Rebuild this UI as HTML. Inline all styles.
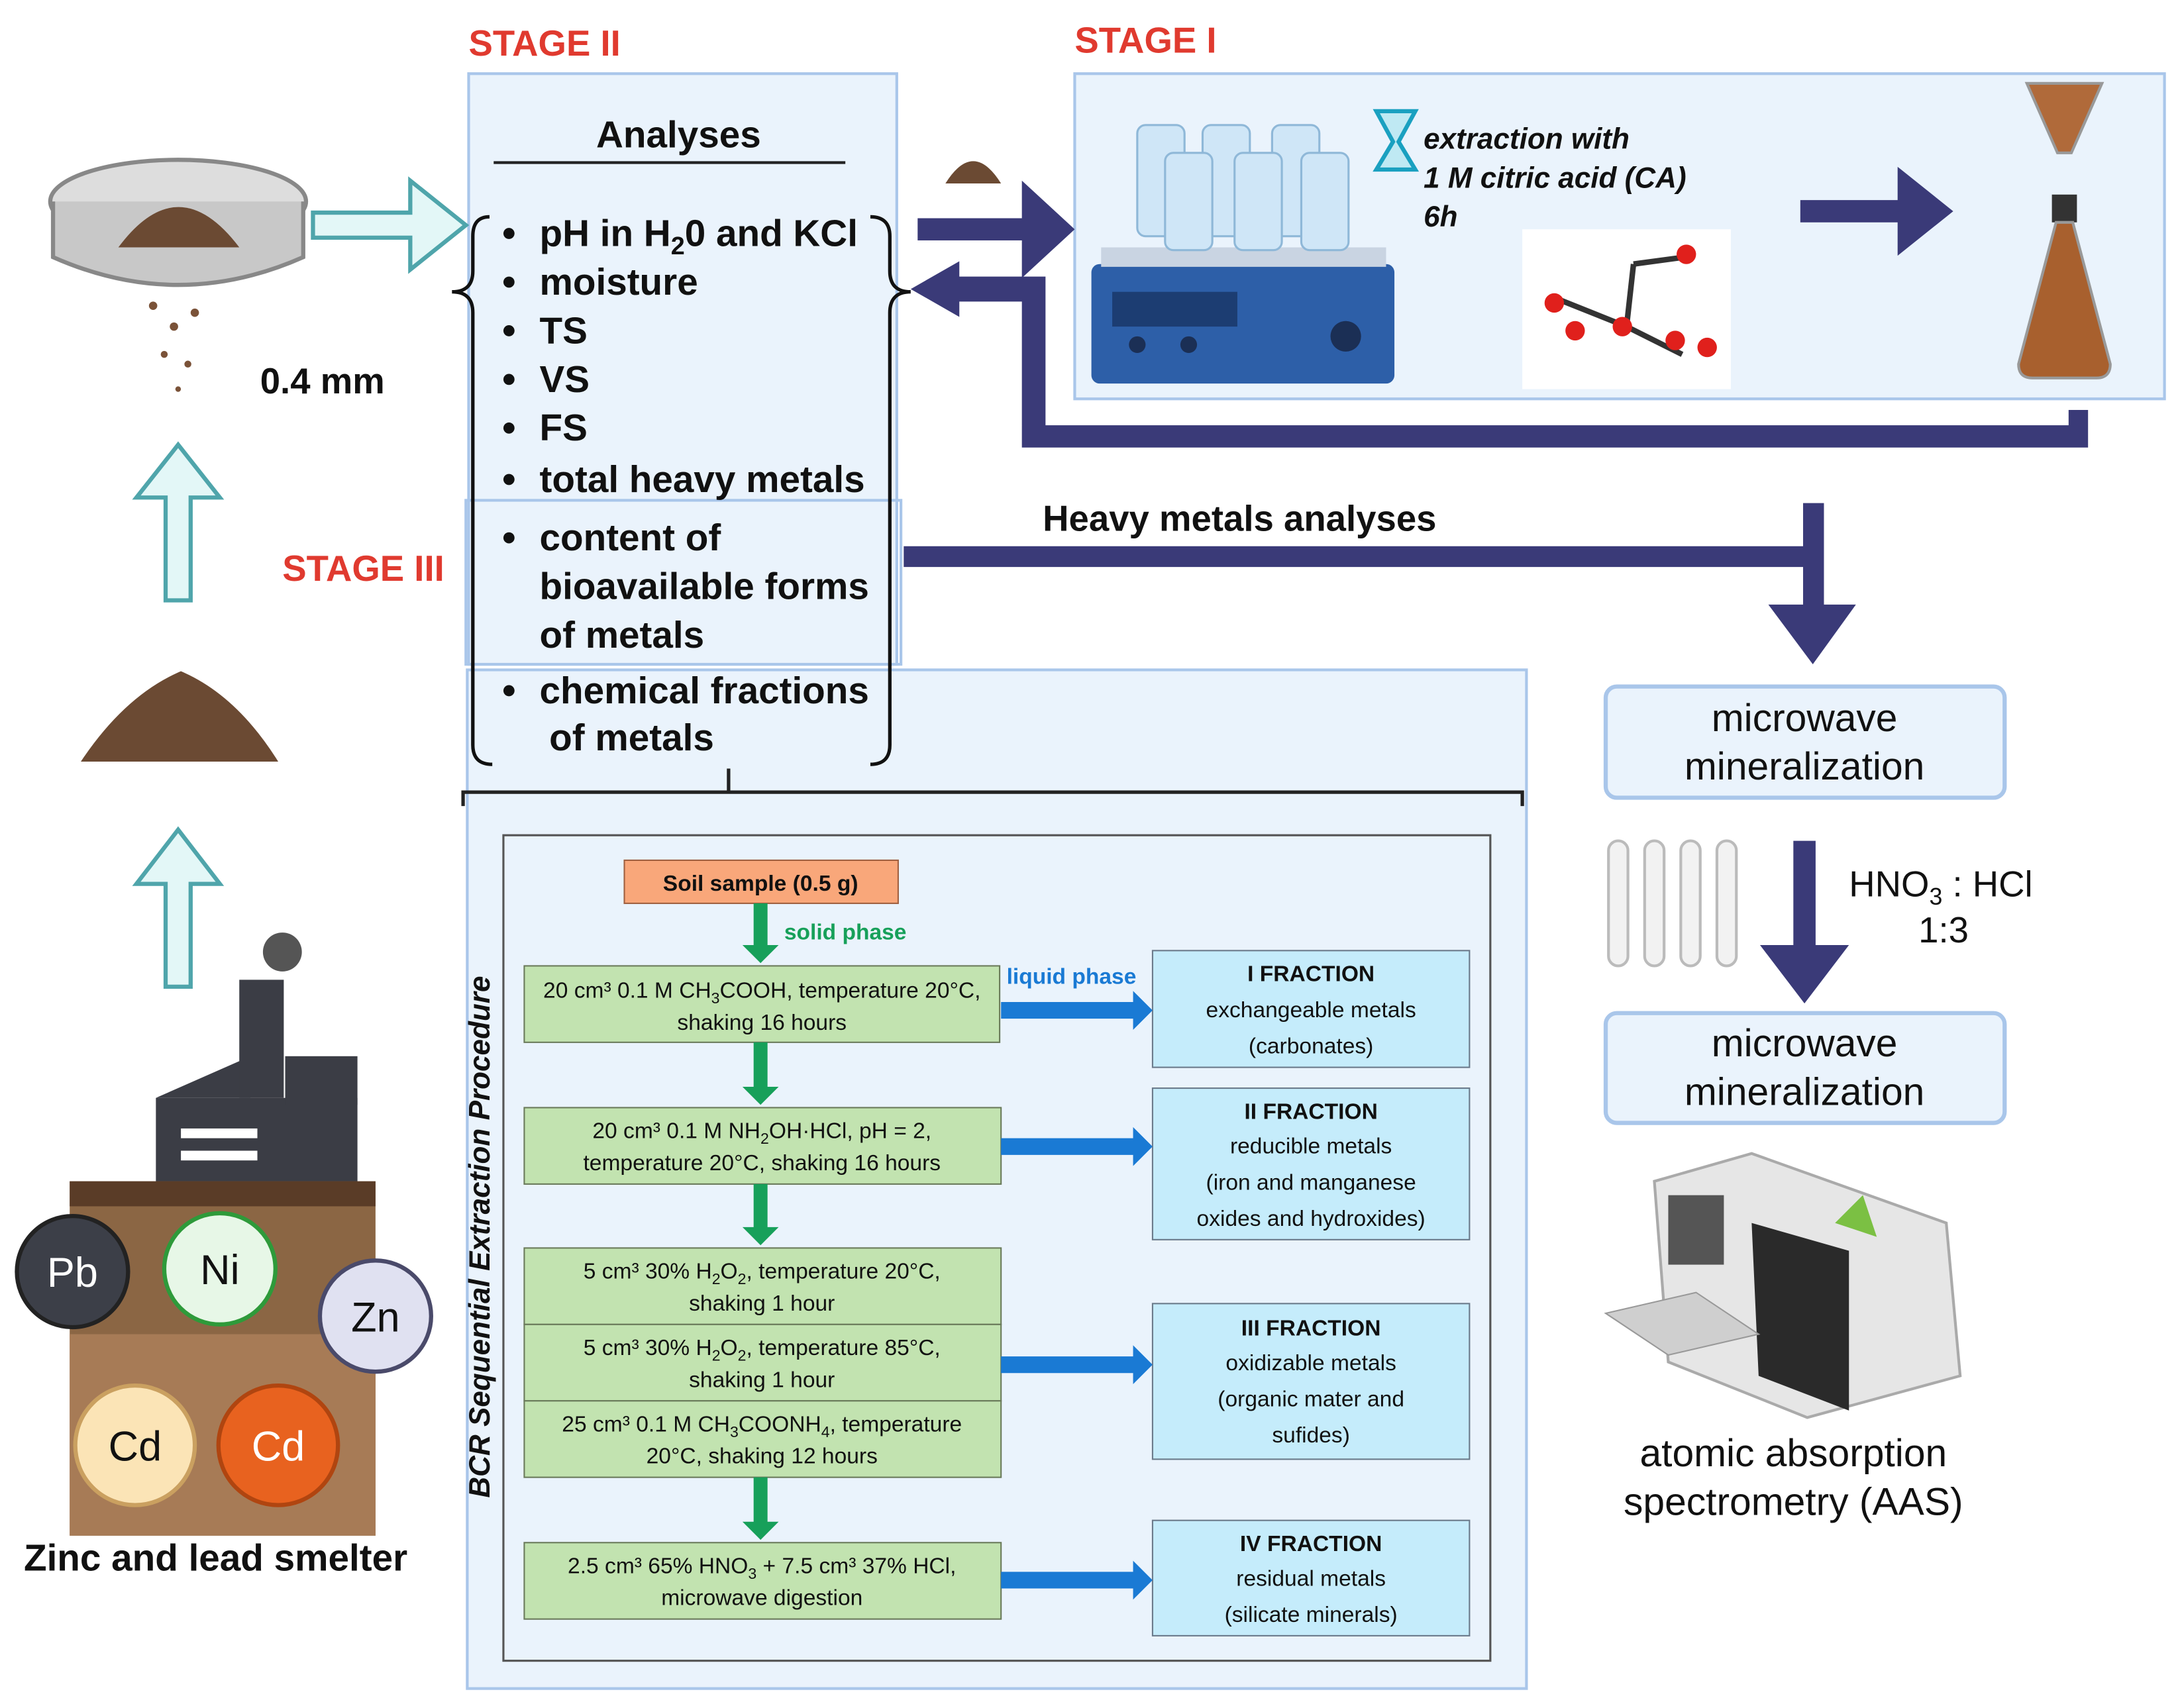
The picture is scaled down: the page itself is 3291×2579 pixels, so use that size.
<!DOCTYPE html>
<html><head><meta charset="utf-8"><style>
html,body{margin:0;padding:0;background:#fff}
svg{display:block}
text{font-family:"Liberation Sans",sans-serif}
</style></head><body>
<svg width="3291" height="2579" viewBox="0 0 1568 1229" xmlns="http://www.w3.org/2000/svg">
<defs>
<marker id="g" viewBox="0 0 10 10" refX="5" refY="5" markerWidth="1" markerHeight="1"></marker>
</defs>
<!-- Stage labels -->
<g fill="#e03a2f" font-weight="bold" font-size="26">
<text x="337" y="40">STAGE II</text>
<text x="773" y="38">STAGE I</text>
<text x="203" y="418">STAGE III</text>
<text x="915" y="518">STAGE IV</text>
</g>
<!-- boxes -->
<rect x="337" y="53" width="308" height="425" fill="#eaf3fc" stroke="#a9c6ea" stroke-width="2"/>
<rect x="773" y="53" width="784" height="234" fill="#eaf3fc" stroke="#a9c6ea" stroke-width="2"/>
<rect x="336" y="482" width="762" height="733" fill="#eaf3fc" stroke="#a9c6ea" stroke-width="2"/>
<rect x="335" y="360" width="313" height="118" fill="none" stroke="#a9c6ea" stroke-width="2"/>
<!-- Stage II content -->
<text x="488" y="106" font-size="27" font-weight="bold" text-anchor="middle" fill="#111">Analyses</text>
<line x1="355" y1="117" x2="608" y2="117" stroke="#222" stroke-width="2"/>
<g font-size="27" font-weight="bold" fill="#111">
<text x="388" y="177">pH in H<tspan font-size="18" dy="6">2</tspan><tspan dy="-6">0 and KCl</tspan></text>
<text x="388" y="212">moisture</text>
<text x="388" y="247">TS</text>
<text x="388" y="282">VS</text>
<text x="388" y="317">FS</text>
<text x="388" y="354">total heavy metals</text>
<text x="388" y="396">content of</text>
<text x="388" y="431">bioavailable forms</text>
<text x="388" y="466">of metals</text>
<text x="388" y="506">chemical fractions</text>
<text x="395" y="540">of metals</text>
</g>
<g fill="#111">
<circle cx="366" cy="168" r="4"/><circle cx="366" cy="203" r="4"/><circle cx="366" cy="238" r="4"/><circle cx="366" cy="273" r="4"/><circle cx="366" cy="308" r="4"/><circle cx="366" cy="345" r="4"/><circle cx="366" cy="387" r="4"/><circle cx="366" cy="497" r="4"/>
</g>
<!-- braces -->
<path d="M352 156 Q340 156 340 170 L340 195 Q340 210 325 210 Q340 210 340 225 L340 536 Q340 550 354 550" fill="none" stroke="#111" stroke-width="2.5"/>
<path d="M626 156 Q640 156 640 170 L640 195 Q640 210 655 210 Q640 210 640 225 L640 536 Q640 550 626 550" fill="none" stroke="#111" stroke-width="2.5"/>
<!-- stage IV bracket -->
<path d="M333 580 L333 570 L1095 570 L1095 580 M524 570 L524 553" fill="none" stroke="#222" stroke-width="2.5"/>
<!-- navy arrows -->
<g fill="#3a3a78">
<polygon points="660,157 735,157 735,130 773,165 735,200 735,173 660,173"/>
<path d="M1488 295 L1502 295 L1502 322 L735 322 L735 217 L690 217 L690 228 L655 208 L690 188 L690 199 L752 199 L752 306 L1488 306 Z"/>
<polygon points="1295,144 1365,144 1365,120 1405,152 1365,184 1365,160 1295,160"/>
<polygon points="650,393 1297,393 1297,362 1312,362 1312,435 1335,435 1304,478 1272,435 1297,435 1297,408 650,408"/>
<polygon points="1290,605 1306,605 1306,680 1330,680 1298,722 1266,680 1290,680"/>
</g>
<text x="750" y="382" font-size="26" font-weight="bold" fill="#111">Heavy metals analyses</text>
<!-- stage I contents -->
<rect x="785" y="190" width="218" height="86" rx="6" fill="#2d5fa8"/>
<rect x="792" y="178" width="205" height="14" fill="#c9d4e2"/>
<rect x="800" y="210" width="90" height="25" fill="#1c3d72"/>
<circle cx="968" cy="242" r="11" fill="#1b2f55"/><circle cx="818" cy="248" r="6" fill="#1b2f55"/><circle cx="855" cy="248" r="6" fill="#1b2f55"/>
<g fill="#cfe6f7" stroke="#8fb8d8" stroke-width="1.5">
<rect x="818" y="90" width="34" height="80" rx="6"/><rect x="865" y="90" width="34" height="80" rx="6"/><rect x="915" y="90" width="34" height="80" rx="6"/>
<rect x="838" y="110" width="34" height="70" rx="6"/><rect x="888" y="110" width="34" height="70" rx="6"/><rect x="936" y="110" width="34" height="70" rx="6"/>
</g>
<path d="M990 80 L1018 80 L1006 102 L1018 122 L990 122 L1002 102 Z" fill="#bfe9f3" stroke="#1aa0c0" stroke-width="3"/>
<g font-size="21" font-weight="bold" font-style="italic" fill="#111">
<text x="1024" y="107">extraction with</text>
<text x="1024" y="135">1 M citric acid (CA)</text>
<text x="1024" y="163">6h</text>
</g>
<rect x="1095" y="165" width="150" height="115" fill="#fff"/>
<g stroke="#333" stroke-width="4"><line x1="1120" y1="215" x2="1170" y2="235"/><line x1="1170" y1="235" x2="1175" y2="190"/><line x1="1175" y1="190" x2="1212" y2="185"/><line x1="1170" y1="235" x2="1210" y2="255"/></g>
<g fill="#e0201c"><circle cx="1118" cy="218" r="7"/><circle cx="1133" cy="238" r="7"/><circle cx="1213" cy="183" r="7"/><circle cx="1205" cy="245" r="7"/><circle cx="1228" cy="250" r="7"/><circle cx="1167" cy="235" r="7"/></g>
<path d="M1458 60 L1512 60 L1490 110 L1480 110 Z" fill="#b06a3a" stroke="#999" stroke-width="2"/>
<rect x="1476" y="140" width="18" height="20" fill="#333"/>
<path d="M1479 160 L1491 160 L1518 262 Q1518 272 1508 272 L1462 272 Q1452 272 1452 262 Z" fill="#a8602e" stroke="#999" stroke-width="2"/>
<path d="M680 132 Q700 100 720 132 Z" fill="#6b4a33"/>
<!-- left side -->
<ellipse cx="128" cy="145" rx="92" ry="30" fill="#ddd" stroke="#888" stroke-width="3"/>
<path d="M38 145 L38 185 Q128 225 218 185 L218 145" fill="#c8c8c8" stroke="#888" stroke-width="3"/>
<path d="M85 178 Q128 120 172 178 Z" fill="#6b4a33"/>
<g fill="#7a5238"><circle cx="110" cy="220" r="3"/><circle cx="125" cy="235" r="3"/><circle cx="140" cy="225" r="3"/><circle cx="118" cy="255" r="2.5"/><circle cx="135" cy="262" r="2.5"/><circle cx="128" cy="280" r="2"/></g>
<text x="187" y="283" font-size="26" font-weight="bold" fill="#111">0.4 mm</text>
<g fill="#e3f7f7" stroke="#4fa5ab" stroke-width="3">
<polygon points="225,153 295,153 295,130 335,162 295,194 295,171 225,171"/>
<polygon points="119,432 137,432 137,358 158,358 128,320 98,358 119,358"/>
<polygon points="119,710 137,710 137,636 158,636 128,597 98,636 119,636"/>
</g>
<path d="M58 548 Q90 500 130 483 Q170 500 200 548 Z" fill="#6b4a33"/>
<!-- factory -->
<rect x="112" y="790" width="145" height="65" fill="#3b3d45"/>
<polygon points="112,790 180,760 180,790" fill="#3b3d45"/>
<rect x="172" y="705" width="32" height="85" fill="#3b3d45"/>
<rect x="205" y="760" width="52" height="35" fill="#3b3d45"/>
<circle cx="203" cy="685" r="14" fill="#555"/>
<rect x="130" y="812" width="55" height="7" fill="#fff"/><rect x="130" y="828" width="55" height="7" fill="#fff"/>
<!-- soil -->
<rect x="50" y="850" width="220" height="255" fill="#8b6644"/>
<rect x="50" y="850" width="220" height="18" fill="#5a3c27"/>
<rect x="50" y="960" width="220" height="145" fill="#a77b56"/>
<circle cx="52" cy="915" r="40" fill="#3c3f48" stroke="#222" stroke-width="3"/>
<circle cx="158" cy="913" r="40" fill="#e7f7e7" stroke="#2e9a3a" stroke-width="3"/>
<circle cx="270" cy="947" r="40" fill="#e0e1f1" stroke="#4a4a6a" stroke-width="3"/>
<circle cx="97" cy="1040" r="43" fill="#fbe4b6" stroke="#caa060" stroke-width="3"/>
<circle cx="200" cy="1040" r="43" fill="#e8621f" stroke="#b04510" stroke-width="3"/>
<g font-size="30" text-anchor="middle">
<text x="52" y="926" fill="#fff">Pb</text><text x="158" y="924" fill="#111">Ni</text><text x="270" y="958" fill="#111">Zn</text><text x="97" y="1051" fill="#111">Cd</text><text x="200" y="1051" fill="#fff">Cd</text>
</g>
<text x="155" y="1130" font-size="27" font-weight="bold" text-anchor="middle" fill="#111">Zinc and lead smelter</text>
<!-- right column -->
<rect x="1155" y="494" width="287" height="80" rx="8" fill="#eaf3fc" stroke="#a9c6ea" stroke-width="3"/>
<rect x="1155" y="729" width="287" height="79" rx="8" fill="#eaf3fc" stroke="#a9c6ea" stroke-width="3"/>
<g font-size="28" text-anchor="middle" fill="#111">
<text x="1298" y="526">microwave</text><text x="1298" y="561">mineralization</text>
<text x="1298" y="760">microwave</text><text x="1298" y="795">mineralization</text>
<text x="1290" y="1055">atomic absorption</text><text x="1290" y="1090">spectrometry (AAS)</text>
</g>
<text x="1330" y="645" font-size="26" fill="#111">HNO<tspan font-size="17" dy="6">3</tspan><tspan dy="-6"> : HCl</tspan></text>
<text x="1380" y="678" font-size="26" fill="#111">1:3</text>
<g fill="#f2f2f2" stroke="#bbb" stroke-width="2">
<rect x="1157" y="605" width="14" height="90" rx="7"/><rect x="1183" y="605" width="14" height="90" rx="7"/><rect x="1209" y="605" width="14" height="90" rx="7"/><rect x="1235" y="605" width="14" height="90" rx="7"/>
</g>
<path d="M1190 850 L1260 830 L1400 880 L1410 990 L1300 1020 L1200 980 Z" fill="#e6e6e6" stroke="#aaa" stroke-width="2"/>
<path d="M1260 880 L1330 900 L1330 1015 L1265 990 Z" fill="#2a2a2a"/>
<path d="M1155 945 L1220 930 L1265 960 L1200 975 Z" fill="#cfcfcf" stroke="#999"/>
<path d="M1320 880 L1340 860 L1350 890 Z" fill="#7bc043"/>
<rect x="1200" y="860" width="40" height="50" fill="#555"/>
<!-- BCR -->
<rect x="362" y="601" width="710" height="594" fill="#eaf3fc" stroke="#555" stroke-width="1.5"/>
<text transform="translate(352,890) rotate(-90)" font-size="21" font-weight="bold" font-style="italic" text-anchor="middle" fill="#111">BCR Sequential Extraction Procedure</text>
<rect x="449" y="619" width="197" height="31" fill="#f9a77a" stroke="#a06040"/>
<text x="547" y="641" font-size="16" font-weight="bold" text-anchor="middle" fill="#111">Soil sample (0.5 g)</text>
<g fill="#c2e3b0" stroke="#6a7a5a" stroke-width="1">
<rect x="377" y="695" width="342" height="55"/><rect x="377" y="797" width="343" height="55"/>
<rect x="377" y="898" width="343" height="55"/><rect x="377" y="953" width="343" height="55"/><rect x="377" y="1008" width="343" height="55"/>
<rect x="377" y="1110" width="343" height="55"/>
</g>
<g fill="#c5ecfb" stroke="#6a7a8a" stroke-width="1">
<rect x="829" y="684" width="228" height="84"/><rect x="829" y="783" width="228" height="109"/><rect x="829" y="938" width="228" height="112"/><rect x="829" y="1094" width="228" height="83"/>
</g>
<g fill="#17a05a">
<polygon points="542,650 552,650 552,680 560,680 547,693 534,680 542,680"/>
<polygon points="542,750 552,750 552,782 560,782 547,795 534,782 542,782"/>
<polygon points="542,852 552,852 552,883 560,883 547,896 534,883 542,883"/>
<polygon points="542,1063 552,1063 552,1095 560,1095 547,1108 534,1095 542,1095"/>
</g>
<g fill="#1a7ad4">
<polygon points="720,721 815,721 815,713 829,727 815,741 815,733 720,733"/>
<polygon points="720,819 815,819 815,811 829,825 815,839 815,831 720,831"/>
<polygon points="720,976 815,976 815,968 829,982 815,996 815,988 720,988"/>
<polygon points="720,1131 815,1131 815,1123 829,1137 815,1151 815,1143 720,1143"/>
</g>
<text x="564" y="676" font-size="16" font-weight="bold" fill="#17a05a">solid phase</text>
<text x="724" y="708" font-size="16" font-weight="bold" fill="#1a7ad4">liquid phase</text>
<g font-size="16" text-anchor="middle" fill="#111">
<text x="548" y="718">20 cm³ 0.1 M CH<tspan font-size="11" dy="4">3</tspan><tspan dy="-4">COOH, temperature 20°C,</tspan></text>
<text x="548" y="741">shaking 16 hours</text>
<text x="548" y="819">20 cm³ 0.1 M NH<tspan font-size="11" dy="4">2</tspan><tspan dy="-4">OH·HCl, pH = 2,</tspan></text>
<text x="548" y="842">temperature 20°C, shaking 16 hours</text>
<text x="548" y="920">5 cm³ 30% H<tspan font-size="11" dy="4">2</tspan><tspan dy="-4">O</tspan><tspan font-size="11" dy="4">2</tspan><tspan dy="-4">, temperature 20°C,</tspan></text>
<text x="548" y="943">shaking 1 hour</text>
<text x="548" y="975">5 cm³ 30% H<tspan font-size="11" dy="4">2</tspan><tspan dy="-4">O</tspan><tspan font-size="11" dy="4">2</tspan><tspan dy="-4">, temperature 85°C,</tspan></text>
<text x="548" y="998">shaking 1 hour</text>
<text x="548" y="1030">25 cm³ 0.1 M CH<tspan font-size="11" dy="4">3</tspan><tspan dy="-4">COONH</tspan><tspan font-size="11" dy="4">4</tspan><tspan dy="-4">, temperature</tspan></text>
<text x="548" y="1053">20°C, shaking 12 hours</text>
<text x="548" y="1132">2.5 cm³ 65% HNO<tspan font-size="11" dy="4">3</tspan><tspan dy="-4"> + 7.5 cm³ 37% HCl,</tspan></text>
<text x="548" y="1155">microwave digestion</text>
<text x="943" y="706" font-weight="bold">I FRACTION</text>
<text x="943" y="732">exchangeable metals</text>
<text x="943" y="758">(carbonates)</text>
<text x="943" y="805" font-weight="bold">II FRACTION</text>
<text x="943" y="830">reducible metals</text>
<text x="943" y="856">(iron and manganese</text>
<text x="943" y="882">oxides and hydroxides)</text>
<text x="943" y="961" font-weight="bold">III FRACTION</text>
<text x="943" y="986">oxidizable metals</text>
<text x="943" y="1012">(organic mater and</text>
<text x="943" y="1038">sufides)</text>
<text x="943" y="1116" font-weight="bold">IV FRACTION</text>
<text x="943" y="1141">residual metals</text>
<text x="943" y="1167">(silicate minerals)</text>
</g>
</svg>
</body></html>
